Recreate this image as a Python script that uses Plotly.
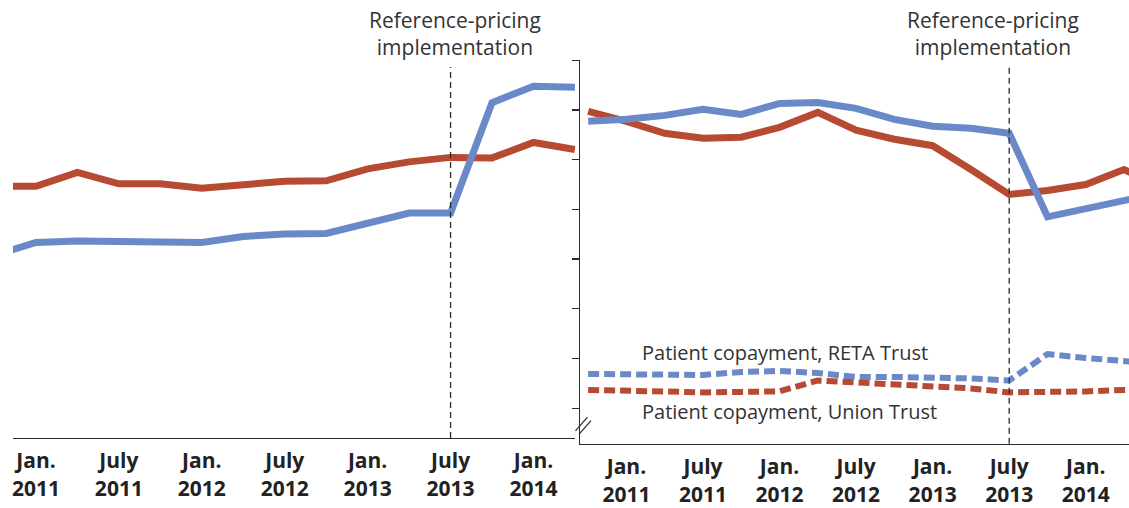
import plotly.graph_objects as go

W, H = 1129, 508

# ---------------- data (quarterly) ----------------
quarters_left = ["2010-10", "2011-01", "2011-04", "2011-07", "2011-10", "2012-01", "2012-04",
                 "2012-07", "2012-10", "2013-01", "2013-04", "2013-07", "2013-10", "2014-01", "2014-04"]
quarters_right = quarters_left + ["2014-07"]

# left panel (arbitrary units)
left_union = [5.06, 5.06, 5.34, 5.11, 5.11, 5.02, 5.09, 5.16, 5.17, 5.41, 5.55, 5.64, 5.63, 5.94, 5.80]
left_reta = [3.67, 3.93, 3.96, 3.94, 3.93, 3.93, 4.05, 4.10, 4.11, 4.32, 4.52, 4.52, 6.74, 7.07, 7.05]

# right panel (arbitrary units)
right_union = [6.97, 6.77, 6.53, 6.43, 6.45, 6.65, 6.95, 6.59, 6.41, 6.28, 5.80, 5.30, 5.38, 5.50, 5.80, 5.44]
right_reta = [6.77, 6.81, 6.89, 7.01, 6.91, 7.13, 7.15, 7.03, 6.81, 6.67, 6.63, 6.53, 4.85, 5.01, 5.17, 5.34]
copay_reta = [1.69, 1.69, 1.67, 1.67, 1.73, 1.75, 1.71, 1.63, 1.63, 1.62, 1.60, 1.56, 2.09, 2.01, 1.95, 1.89]
copay_union = [1.37, 1.36, 1.32, 1.32, 1.33, 1.34, 1.56, 1.52, 1.48, 1.44, 1.40, 1.32, 1.32, 1.34, 1.37, 1.38]

tick_months = [0, 6, 12, 18, 24, 30, 36]
tick_labels = ["Jan.<br>2011", "July<br>2011", "Jan.<br>2012", "July<br>2012",
               "Jan.<br>2013", "July<br>2013", "Jan.<br>2014"]
right_ticks = [1, 2, 3, 4, 5, 6, 7, 8]
implementation_month = 30  # July 2013


def month_index(q):
    y, m = q.split("-")
    return (int(y) - 2011) * 12 + int(m) - 1


xl = [month_index(q) for q in quarters_left]
xr = [month_index(q) for q in quarters_right]

BLUE = "#6a89c9"
RED = "#b64a32"
AX = "#2b2b2b"
TXT = "#333333"

fig = go.Figure()
fig.add_trace(go.Scatter(x=xl, y=left_union, mode="lines", line=dict(color=RED, width=7),
                         xaxis="x", yaxis="y", showlegend=False, hoverinfo="skip"))
fig.add_trace(go.Scatter(x=xl, y=left_reta, mode="lines", line=dict(color=BLUE, width=7),
                         xaxis="x", yaxis="y", showlegend=False, hoverinfo="skip"))
fig.add_trace(go.Scatter(x=xr, y=right_union, mode="lines", line=dict(color=RED, width=7),
                         xaxis="x2", yaxis="y2", showlegend=False, hoverinfo="skip"))
fig.add_trace(go.Scatter(x=xr, y=right_reta, mode="lines", line=dict(color=BLUE, width=7),
                         xaxis="x2", yaxis="y2", showlegend=False, hoverinfo="skip"))
fig.add_trace(go.Scatter(x=xr, y=copay_reta, mode="lines",
                         line=dict(color=BLUE, width=6, dash="11px,5px"),
                         xaxis="x2", yaxis="y2", showlegend=False, hoverinfo="skip"))
fig.add_trace(go.Scatter(x=xr, y=copay_union, mode="lines",
                         line=dict(color=RED, width=6, dash="11px,5px"),
                         xaxis="x2", yaxis="y2", showlegend=False, hoverinfo="skip"))

px_x = lambda p: p / W
px_y = lambda p: (H - p) / H

tickfont = dict(family="Open Sans", size=21, color="#222222", weight="bold")

fig.update_layout(
    width=W, height=H,
    margin=dict(l=0, r=0, t=0, b=0),
    paper_bgcolor="white", plot_bgcolor="white",
    hovermode=False,
    xaxis=dict(domain=[px_x(12), px_x(575)], range=[-1.663, 39.04], anchor="y",
               showgrid=False, zeroline=False, showline=True, linecolor=AX, linewidth=1.3,
               tickmode="array", tickvals=tick_months, ticktext=tick_labels,
               ticks="", tickfont=tickfont, ticklabelstandoff=4),
    yaxis=dict(domain=[px_y(444), px_y(61)], range=[0, 7.595], anchor="x",
               visible=False),
    xaxis2=dict(domain=[px_x(580), 1.0], range=[-3.60, 39.39], anchor="y2",
                showgrid=False, zeroline=False, showline=True, linecolor=AX, linewidth=1.3,
                tickmode="array", tickvals=tick_months, ticktext=tick_labels,
                ticks="", tickfont=tickfont, ticklabelstandoff=4),
    yaxis2=dict(domain=[px_y(450), px_y(61)], range=[0.286, 8], anchor="x2",
                showgrid=False, zeroline=False, showline=True, linecolor=AX, linewidth=1.3,
                tickmode="array", tickvals=right_ticks, showticklabels=False,
                ticks="outside", ticklen=7, tickwidth=1.3, tickcolor=AX),
)

# implementation dashed lines
fig.add_shape(type="line", xref="x", yref="paper", x0=implementation_month, x1=implementation_month,
              y0=px_y(444), y1=px_y(68), line=dict(color=AX, width=1.3, dash="6px,4px"))
fig.add_shape(type="line", xref="x2", yref="paper", x0=implementation_month, x1=implementation_month,
              y0=px_y(450), y1=px_y(68), line=dict(color=AX, width=1.3, dash="6px,4px"))

# axis break marks
for dx in (0, 3.5):
    fig.add_shape(type="line", xref="paper", yref="paper",
                  x0=px_x(575 + dx), y0=px_y(437 + dx), x1=px_x(587 + dx), y1=px_y(423 + dx),
                  line=dict(color=AX, width=1.2))

annfont = dict(family="Open Sans", size=21, color=TXT)
labfont = dict(family="Open Sans", size=20, color=TXT)
fig.add_annotation(xref="paper", yref="paper", x=px_x(454), y=px_y(34),
                   text="Reference-pricing<br>implementation", showarrow=False,
                   xanchor="center", yanchor="middle", font=annfont)
fig.add_annotation(xref="paper", yref="paper", x=px_x(993), y=px_y(34),
                   text="Reference-pricing<br>implementation", showarrow=False,
                   xanchor="center", yanchor="middle", font=annfont)
fig.add_annotation(xref="paper", yref="paper", x=px_x(640), y=px_y(357),
                   text="Patient copayment, RETA Trust", showarrow=False,
                   xanchor="left", yanchor="middle", font=labfont)
fig.add_annotation(xref="paper", yref="paper", x=px_x(640), y=px_y(417),
                   text="Patient copayment, Union Trust", showarrow=False,
                   xanchor="left", yanchor="middle", font=labfont)

fig.write_html("out.html", config={"displayModeBar": False, "staticPlot": True},
               post_script="document.body.style.margin='0';document.body.style.overflow='hidden';")
